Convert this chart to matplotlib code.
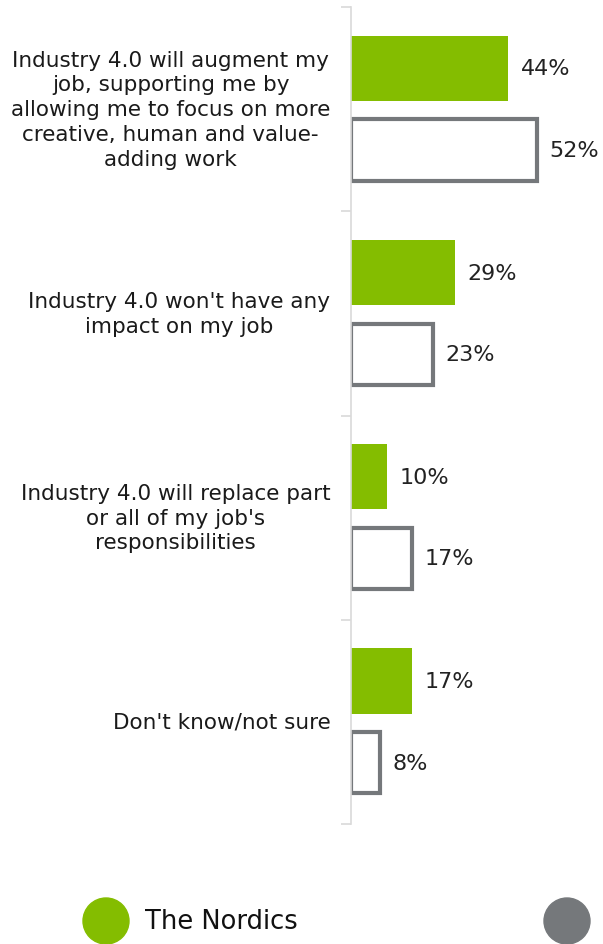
import numpy as np
import matplotlib.pyplot as plt
from matplotlib.patches import Circle

categories = ["Industry 4.0 will augment my\njob, supporting me by\nallowing me to focus on more\ncreative, human and value-\nadding work",
              "Industry 4.0 won't have any\nimpact on my job",
              "Industry 4.0 will replace part\nor all of my job's\nresponsibilities",
              "Don't know/not sure"]
nordics = [44, 29, 10, 17]
other = [52, 23, 17, 8]
legend_labels = ["The Nordics", ""]

green = "#84bd00"
grey = "#75787b"

fig = plt.figure(figsize=(6.03, 9.45), dpi=100)
ax = fig.add_axes([351 / 603, 120 / 945, 252 / 603, 817 / 945])

y = np.arange(len(categories))
ax.barh(y - 0.2, nordics, height=0.32, color=green)
ax.barh(y + 0.2, other, height=0.30, color="white", edgecolor=grey, linewidth=3)

for i in range(len(categories)):
    ax.text(nordics[i] + 3.5, y[i] - 0.2, f"{nordics[i]}%", va="center", ha="left", fontsize=16, color="#222222")
    ax.text(other[i] + 3.5, y[i] + 0.2, f"{other[i]}%", va="center", ha="left", fontsize=16, color="#222222")
    ax.text(-5.8, y[i], categories[i], va="center", ha="right", multialignment="center",
            fontsize=15.5, color="#1a1a1a", linespacing=1.3)

ax.set_xlim(0, 252 / 3.57)
ax.set_ylim(len(categories) - 0.5, -0.5)
ax.set_yticks(np.arange(len(categories) + 1) - 0.5)
ax.set_yticklabels([])
ax.set_xticks([])
ax.tick_params(axis="y", length=7, color="#d9d9d9", width=1.2)
for s in ["top", "right", "bottom"]:
    ax.spines[s].set_visible(False)
ax.spines["left"].set_color("#d9d9d9")
ax.spines["left"].set_linewidth(1.2)

# legend drawn in pixel space along the bottom
lax = fig.add_axes([0, 0, 1, 80 / 945])
lax.set_xlim(0, 603)
lax.set_ylim(0, 80)
lax.axis("off")
lax.add_patch(Circle((106, 23), 23, color=green, clip_on=False))
lax.text(145, 23, legend_labels[0], va="center", ha="left", fontsize=18.5, color="#111111")
lax.add_patch(Circle((567, 23), 23, color=grey, clip_on=False))

fig.savefig("out.png", dpi=100)
